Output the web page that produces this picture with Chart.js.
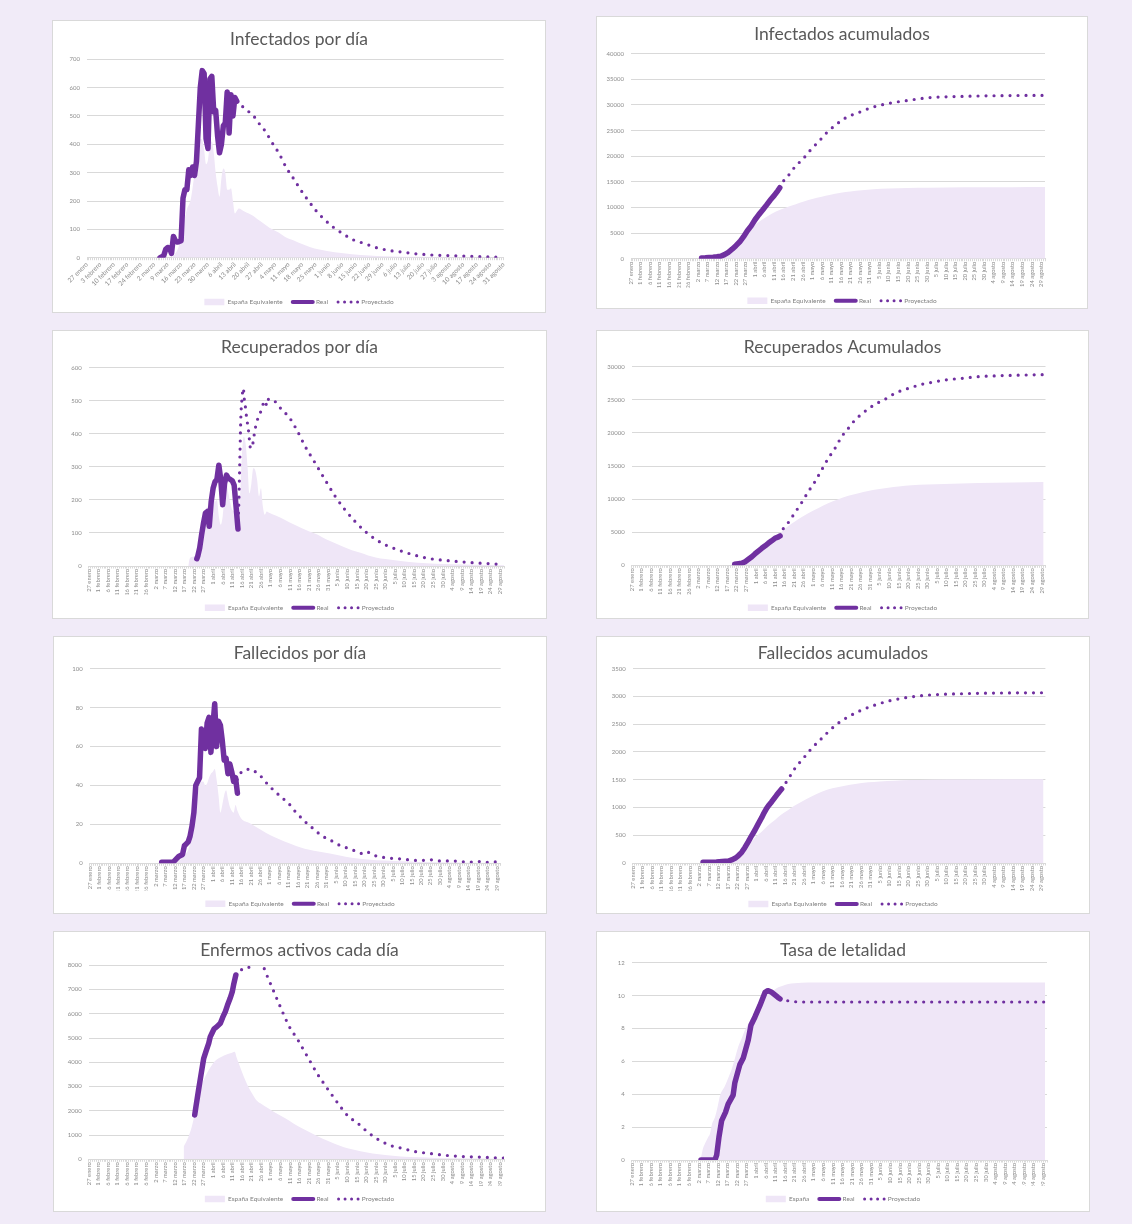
<!DOCTYPE html>
<html><head><meta charset="utf-8">
<script src="https://cdn.jsdelivr.net/npm/chart.js@4.4.1/dist/chart.umd.min.js"></script>
<style>
html,body{margin:0;padding:0;}
body{width:1132px;height:1224px;background:#f1ebf8;position:relative;overflow:hidden;font-family:Lato,sans-serif;}
.panel{position:absolute;background:#fff;border:1px solid #d9d9d9;box-sizing:border-box;}
canvas.c{position:absolute;}
</style></head><body>
<script>
// ---------- tick labels ----------
const weeklyTicks = ['27 enero','3 febrero','10 febrero','17 febrero','24 febrero','2 marzo','9 marzo','16 marzo','23 marzo','30 marzo','6 abril','13 abril','20 abril','27 abril','4 mayo','11 mayo','18 mayo','25 mayo','1 junio','8 junio','15 junio','22 junio','29 junio','6 julio','13 julio','20 julio','27 julio','3 agosto','10 agosto','17 agosto','24 agosto','31 agosto'];
const fiveDayTicks = ['27 enero','1 febrero','6 febrero','11 febrero','16 febrero','21 febrero','26 febrero','2 marzo','7 marzo','12 marzo','17 marzo','22 marzo','27 marzo','1 abril','6 abril','11 abril','16 abril','21 abril','26 abril','1 mayo','6 mayo','11 mayo','16 mayo','21 mayo','26 mayo','31 mayo','5 junio','10 junio','15 junio','20 junio','25 junio','30 junio','5 julio','10 julio','15 julio','20 julio','25 julio','30 julio','4 agosto','9 agosto','14 agosto','19 agosto','24 agosto','29 agosto'];
const seriesNames = ['España Equivalente','Real','Proyectado'];
const seriesNamesTasa = ['España','Real','Proyectado'];

// ---------- data: [day index since 27 enero, value] ----------
// Infectados por día
const infDiaEsp = [[44,0],[46,15],[48,45],[50,110],[52,170],[54,205],[56,300],[57,360],[58,400],[59,420],[60,415],[61,380],[62,330],[63,345],[64,400],[65,410],[66,370],[67,300],[68,250],[69,215],[70,280],[71,315],[72,300],[73,240],[74,240],[75,245],[76,200],[77,156],[78,165],[79,174],[82,163],[86,150],[90,130],[95,106],[100,88],[103,74],[108,60],[112,48],[116,38],[121,29],[129,19],[138,12],[147,8],[155,5],[165,3.5],[173,3],[190,2],[217,1]];
const infDiaReal = [[38,0],[39,3],[40,8],[41,30],[42,36],[43,34],[44,15],[45,75],[46,60],[47,55],[48,57],[49,60],[50,210],[51,240],[52,240],[53,310],[54,290],[55,320],[56,290],[57,340],[58,470],[59,600],[60,660],[61,650],[62,420],[63,385],[64,630],[65,640],[66,515],[67,520],[68,430],[69,370],[70,400],[71,465],[72,475],[73,585],[74,440],[75,575],[76,500],[77,565],[78,552]];
const infDiaProy = [[78,552],[79,545],[83,522],[87,498],[90,470],[93,445],[96,410],[100,368],[104,315],[107,285],[110,253],[113,222],[115,204],[119,168],[123,139],[128,109],[133,86],[138,65],[144,51],[151,35],[158,25],[165,19],[171,14],[181,9],[190,7],[199,5],[208,3],[217,1]];
// Infectados acumulados
const infAcuEsp = [[38,0],[44,100],[48,400],[50,700],[52,1300],[55,2200],[58,3500],[61,5000],[63,5900],[66,6900],[69,7700],[72,8400],[76,9200],[81,9950],[86,10600],[91,11200],[95,11650],[100,12100],[104,12450],[110,12850],[115,13100],[121,13350],[127,13550],[135,13700],[145,13800],[156,13850],[175,13920],[200,13960],[217,13980]];
const infAcuReal = [[37,130],[39,170],[41,240],[43,300],[45,380],[47,480],[49,800],[51,1240],[53,1850],[55,2550],[57,3300],[59,4300],[61,5450],[63,6400],[65,7600],[67,8600],[69,9500],[71,10450],[73,11450],[75,12300],[77,13300],[78,13850]];
const infAcuProy = [[78,13850],[79,14700],[81.6,15800],[86,17950],[90.4,19580],[94.4,21330],[98.6,22960],[102.9,24700],[107.3,26100],[111.7,27300],[116.1,28100],[120.4,28680],[124.8,29330],[129.4,29850],[133.5,30180],[137.9,30500],[142.8,30760],[148.9,31090],[155.9,31410],[173.4,31670],[190.9,31800],[217,31870]];
// Recuperados por día
const recDiaEsp = [[52,0],[53,25],[56,30],[58,60],[60,120],[62,180],[63,150],[64,200],[65,205],[66,195],[67,200],[68,150],[69,125],[70,150],[71,210],[72,250],[73,220],[74,190],[75,170],[76,165],[77,160],[78,170],[79,200],[80,330],[81,391],[82,370],[83,300],[84,220],[85,250],[86,296],[87,290],[88,260],[89,210],[90,235],[91,180],[92,155],[93,165],[94,162],[98,152],[102.6,139],[107,126],[111.4,114],[115,105],[120,94],[124,81],[128.8,69],[133,58],[137.5,48],[142,40],[146,32],[150,26],[155,21],[163,15],[172,10],[181,7],[190,5],[200,3.5],[217,2]];
const recDiaReal = [[56.5,22],[57,30],[58,55],[59,95],[60,130],[61,160],[62,165],[63,120],[64,195],[65,235],[66,255],[67,262],[68,305],[69,262],[70,185],[71,250],[72,275],[73,265],[74,262],[75,258],[76,245],[77,180],[78,112]];
const recDiaProy = [[78,112],[78.5,200],[79,330],[79.5,450],[80,500],[80.8,538],[81.3,505],[81.7,490],[82.5,450],[83.5,410],[84.6,356],[85.5,362],[86.3,391],[87.2,421],[88.6,450],[89.7,464],[90.6,482],[92.3,500],[93,485],[94,505],[95,505],[97.5,497],[101,472],[104.5,452],[108.8,411],[113.2,361],[118.4,311],[123.6,260],[128.9,210],[134.1,169],[139.3,134],[144.6,104],[149.8,81],[155,64],[162,48],[169,35],[177.6,23],[189.8,15],[200.3,10],[216,5]];
// Recuperados acumulados
const recAcuEsp = [[52,0],[55,150],[58,350],[61,700],[64.6,1300],[68,2000],[71.6,2820],[75,3900],[78.6,5085],[82,5900],[85.6,6600],[89,7250],[92.6,7850],[98,8650],[103,9360],[108,9950],[113.6,10520],[119,10900],[124,11230],[129,11500],[134.6,11730],[140,11900],[146.8,12080],[155,12200],[164,12280],[181.8,12430],[200,12520],[216,12590]];
const recAcuReal = [[54,150],[56,230],[57.7,302],[59.5,550],[61.2,906],[63,1300],[64.6,1711],[66.4,2150],[68.2,2567],[70,2950],[71.6,3322],[73.4,3700],[75.1,4078],[77,4300],[77.8,4430]];
const recAcuProy = [[77.8,4430],[78.6,5085],[82.1,6444],[85.6,7954],[89.1,9464],[92.6,11125],[96.1,12635],[99.6,14397],[103.1,16159],[106.6,17669],[110.1,19431],[113.6,20690],[117.1,21948],[120.6,22854],[124.9,23811],[129.3,24566],[133.7,25220],[138,25975],[142.4,26479],[146.8,26882],[152,27335],[157.3,27637],[164.3,27989],[173,28241],[181.8,28492],[199.2,28694],[215.8,28794]];
// Fallecidos por día
const falDiaEsp = [[44,0],[46,1],[48,2],[50,4],[52,7],[53,10],[54,14],[55,20],[56,28],[57,35],[58,40],[59,42],[60,42],[61,40],[62,41],[63,44],[64,46],[65,47],[66,48.5],[67,43],[68,35],[69,26],[70,30],[71,35],[72,37.5],[73,33],[74,29],[75,27],[76,26],[77,30],[78,27],[80,23],[84.6,20.6],[89,18],[93.4,15.4],[98,13.3],[102.2,11.5],[107,9.7],[111,8.2],[116,6.9],[120.7,6],[126.8,5],[132,4],[138.3,2.9],[147,2],[155.9,1.4],[165,1],[173.5,0.7],[190,0.4],[216,0.2]];
const falDiaReal = [[38,0.5],[40,0.5],[42,0.5],[44,0.5],[45,1.5],[46,2.5],[47,3.5],[48,4],[49,4.5],[50,9],[51,10],[52,11],[53,14],[54,19],[55,26],[56,40],[57,42],[58,44],[59,69],[60,66],[61,59],[62,72],[63,75],[64,57],[65,70],[66,82],[67,60],[68,73],[69,71],[70,63],[71,53],[72,54],[73,46],[74,51],[75,47],[76,42],[77,44],[78,36]];
const falDiaProy = [[77.9,43],[79,45.5],[81,47.5],[83,48.3],[85.5,48.3],[87.5,47],[90.1,45],[94.5,40],[98,36.8],[101.5,33.7],[105,30.8],[108.6,26.5],[112.1,23],[115.6,19.7],[119.1,17],[122.6,14],[126.2,12.5],[129.7,10.3],[135,8.2],[140.3,6.3],[145.5,4.6],[147.3,5.6],[150.8,3.9],[156.1,2.9],[164.9,2.2],[173.7,1.4],[180,1.8],[185,1.2],[191.3,1.2],[200,0.6],[205,0.9],[210,0.5],[214.2,0.7],[217,0.5]];
// Fallecidos acumulados
const falAcuEsp = [[40,0],[48,20],[52,50],[55,110],[57.3,174],[60,290],[62.5,384],[65,480],[67.8,564],[71,670],[74.8,774],[78,870],[81.8,954],[85,1030],[88.8,1104],[94,1200],[99.4,1285],[105,1345],[111.6,1393],[117,1425],[123.9,1453],[130,1470],[137.9,1483],[146,1493],[155.4,1501],[175,1505],[216,1507]];
const falAcuReal = [[37,12],[40,15],[44,20],[47,28],[50.3,36],[52,55],[53.8,84],[55.5,130],[57.3,192],[59,280],[60.8,384],[62.5,490],[64.3,594],[66,705],[67.8,816],[69,900],[70.4,984],[71.7,1045],[73.1,1104],[74.4,1165],[75.7,1224],[77,1280],[78.3,1333]];
const falAcuProy = [[78.3,1333],[81.8,1513],[85.3,1705],[89.7,1885],[94.1,2065],[98.5,2215],[102.9,2365],[107.2,2497],[113.4,2635],[120.4,2755],[127.4,2845],[134.4,2917],[141.4,2965],[148.4,3001],[155.4,3025],[172.9,3049],[190.4,3061],[215.9,3067]];
// Enfermos activos cada día
const actEsp = [[49.6,520],[52,900],[53.9,1350],[56,2100],[57.4,2580],[59,3050],[60.9,3410],[62.5,3650],[64.4,3890],[66,4050],[67.9,4165],[70,4250],[71.4,4300],[74,4370],[76.3,4440],[77.3,4200],[78.4,3960],[81,3410],[83,3050],[85.3,2720],[87.5,2450],[89.7,2310],[94,2100],[98,1900],[102.7,1690],[107,1480],[111.4,1280],[116,1100],[120.1,935],[124.5,780],[128.8,632],[133,510],[137.5,412],[142,335],[146.2,275],[150.5,220],[154.9,179],[163,120],[172.3,82],[181,58],[189.7,41],[200,33],[215,27]];
const actReal = [[55.4,1828],[56,2150],[57.4,2859],[58.5,3400],[60.1,4165],[61.5,4500],[62.7,4784],[63.5,5050],[64.4,5196],[65.5,5380],[67,5471],[68.8,5608],[70,5850],[71.4,6089],[72.5,6350],[73.9,6639],[75,6900],[75.7,7189],[76.9,7602]];
const actProy = [[76.9,7602],[79.2,7808],[82.3,7835],[84.7,8000],[87.5,8250],[89.5,8150],[91.1,7973],[93.4,7533],[96,7052],[98.6,6571],[101.2,6090],[105.3,5402],[108.8,4990],[112.3,4509],[115.8,4028],[119.3,3546],[122.8,3134],[127.1,2653],[131.5,2172],[135.8,1760],[140.2,1512],[144.5,1210],[148.9,935],[153.2,729],[158.5,550],[163.7,454],[170.7,316],[177.6,247],[186.3,165],[196.8,110],[207.3,82],[214.2,55],[217,50]];
// Tasa de letalidad
const tasaEsp = [[36,0],[37,0.6],[38.3,1.0],[40,1.4],[40.9,1.6],[42,2.2],[43.5,2.6],[45,3.3],[46.1,3.9],[48.7,4.5],[50.5,5.0],[52.2,5.5],[54,6.2],[55.7,6.9],[57.5,7.4],[59.2,7.9],[61.5,8.4],[63.6,8.9],[65.8,9.3],[67.9,9.7],[69.6,9.9],[71.4,10.1],[74,10.3],[76.6,10.5],[79,10.6],[81.8,10.7],[85,10.75],[88.8,10.78],[95,10.8],[102.7,10.8],[216,10.8]];
const tasaReal = [[36.2,0],[43.5,0],[44.4,0.3],[45.6,1.4],[47,2.4],[49,2.9],[50.4,3.4],[53,3.95],[53.9,4.7],[56.5,5.8],[58.3,6.2],[60.9,7.3],[62.3,8.2],[64.4,8.7],[67,9.4],[69.7,10.2],[71.1,10.3],[73.2,10.2],[76.3,9.9],[77.5,9.8]];
const tasaProy = [[77.5,9.8],[78.4,9.8],[81,9.7],[85.3,9.63],[90,9.61],[217,9.61]];

// ---------- styling ----------
const PURPLE = '#7030a0';
const AREA = '#efe6f7';
const GRID = '#d9d9d9';
const TICK = '#8c8c8c';
Chart.defaults.font.family = 'Lato, sans-serif';

const toXY = a => a.map(p => ({x: p[0], y: p[1]}));

function makeChart(c) {
  const [bx, by, bw, bh] = c.box;
  const panel = document.createElement('div');
  panel.className = 'panel';
  panel.style.cssText = `left:${bx}px;top:${by}px;width:${bw}px;height:${bh}px;`;
  document.body.appendChild(panel);
  const cv = document.createElement('canvas');
  cv.className = 'c';
  cv.width = bw; cv.height = c.ch;
  cv.style.cssText = `left:${bx}px;top:${by}px;width:${bw}px;height:${c.ch}px;`;
  document.body.appendChild(cv);
  const names = c.names || seriesNames;
  new Chart(cv.getContext('2d'), {
    type: 'line',
    data: {datasets: [
      {label: names[0], data: toXY(c.esp), fill: 'origin', backgroundColor: AREA, borderColor: AREA, borderWidth: 0, pointRadius: 0, cubicInterpolationMode: 'monotone'},
      {label: names[1], data: toXY(c.real), fill: false, borderColor: PURPLE, backgroundColor: PURPLE, borderWidth: 5.5, pointRadius: 0, tension: 0, borderJoinStyle: 'round', borderCapStyle: 'round'},
      {label: names[2], data: toXY(c.proy), fill: false, borderColor: PURPLE, backgroundColor: 'transparent', borderWidth: 3.2, borderDash: [0, 8], borderCapStyle: 'round', pointRadius: 0, cubicInterpolationMode: 'monotone'}
    ]},
    options: {
      responsive: false, animation: false, devicePixelRatio: 1, events: [],
      layout: {padding: {left: 0, top: 0, right: 0, bottom: c.padB}},
      plugins: {
        filler: {drawTime: 'beforeDatasetsDraw'},
        tooltip: {enabled: false},
        title: {display: true, text: c.title, color: '#595959', font: {size: 17.5, weight: 'normal'}, padding: {top: c.tT, bottom: c.tB}},
        legend: {position: 'bottom', labels: {
          usePointStyle: true, pointStyleWidth: 20, padding: 10, color: '#7f7f7f', font: {size: 6.5},
          generateLabels(chart) {
            const items = Chart.defaults.plugins.legend.labels.generateLabels(chart);
            Object.assign(items[0], {pointStyle: 'rect', fillStyle: AREA, strokeStyle: AREA, lineWidth: 0, lineDash: []});
            Object.assign(items[1], {pointStyle: 'line', fillStyle: PURPLE, strokeStyle: PURPLE, lineWidth: 4, lineCap: 'round', lineDash: []});
            Object.assign(items[2], {pointStyle: 'line', fillStyle: PURPLE, strokeStyle: PURPLE, lineWidth: 3, lineCap: 'round', lineDash: [0, 6.5]});
            return items;
          }
        }}
      },
      scales: {
        x: {type: 'linear', min: 0, max: 217,
          afterFit(s) { s.height = c.xH; },
          ticks: {stepSize: 1, autoSkip: false, minRotation: c.rot, maxRotation: c.rot, padding: 0.5, color: TICK, font: {size: c.xfs},
            callback(v) { const i = Math.round(v); if (i % c.step !== 0) return ''; return c.xt[i / c.step] || ''; }},
          grid: {drawOnChartArea: false, drawTicks: true, tickLength: 2.5, color: GRID},
          border: {display: true, color: GRID}
        },
        y: {min: 0, max: c.ymax,
          afterFit(s) { s.width = c.yW; },
          ticks: {stepSize: c.ystep, padding: 7, color: TICK, font: {size: 6}, callback: v => String(v)},
          grid: {color: GRID, drawTicks: false},
          border: {display: false}
        },
        yRight: {type: 'linear', position: 'right', display: true,
          afterFit(s) { s.width = c.padR; },
          ticks: {display: false}, grid: {display: false, drawTicks: false}, border: {display: false}
        }
      }
    }
  });
}

const charts = [
  {title: 'Infectados por día', box: [52,20,494,293], ch: 296, padR: 42.3, padB: 0.75, tT: 8.5, tB: 9.8, xH: 31.05, yW: 35, ymax: 700, ystep: 100, rot: 45, step: 7, xt: weeklyTicks, xfs: 6.5, esp: infDiaEsp, real: infDiaReal, proy: infDiaProy},
  {title: 'Infectados acumulados', box: [596,16,492,293], ch: 298, padR: 43, padB: 0.05, tT: 7.5, tB: 9.2, xH: 28.75, yW: 35, ymax: 40000, ystep: 5000, rot: 90, step: 5, xt: fiveDayTicks, xfs: 5.8, esp: infAcuEsp, real: infAcuReal, proy: infAcuProy},
  {title: 'Recuperados por día', box: [52,330,495,289], ch: 291, padR: 43, padB: 0.05, tT: 6.5, tB: 10.2, xH: 28.45, yW: 36.7, ymax: 600, ystep: 100, rot: 90, step: 5, xt: fiveDayTicks, xfs: 5.8, esp: recDiaEsp, real: recDiaReal, proy: recDiaProy},
  {title: 'Recuperados Acumulados', box: [596,330,493,289], ch: 291, padR: 43.5, padB: 0.05, tT: 6.5, tB: 9.2, xH: 29.15, yW: 35.7, ymax: 30000, ystep: 5000, rot: 90, step: 5, xt: fiveDayTicks, xfs: 5.8, esp: recAcuEsp, real: recAcuReal, proy: recAcuProy},
  {title: 'Fallecidos por día', box: [53,636,494,278], ch: 281, padR: 46.3, padB: 0.05, tT: 6.5, tB: 5.2, xH: 27.15, yW: 36.7, ymax: 100, ystep: 20, rot: 90, step: 5, xt: fiveDayTicks, xfs: 5.8, esp: falDiaEsp, real: falDiaReal, proy: falDiaProy},
  {title: 'Fallecidos acumulados', box: [596,636,494,278], ch: 282, padR: 44.6, padB: 0.75, tT: 6.5, tB: 5.2, xH: 27.75, yW: 36.7, ymax: 3500, ystep: 500, rot: 90, step: 5, xt: fiveDayTicks, xfs: 5.8, esp: falAcuEsp, real: falAcuReal, proy: falAcuProy},
  {title: 'Enfermos activos cada día', box: [53,931,493,281], ch: 282, padR: 42, padB: 0.75, tT: 8.5, tB: 4.8, xH: 26.45, yW: 35.7, ymax: 8000, ystep: 1000, rot: 90, step: 5, xt: fiveDayTicks, xfs: 5.8, esp: actEsp, real: actReal, proy: actProy},
  {title: 'Tasa de letalidad', box: [596,931,494,281], ch: 282, padR: 43, padB: 0.75, tT: 8.5, tB: 2.2, xH: 25.75, yW: 35.7, ymax: 12, ystep: 2, rot: 90, step: 5, xt: fiveDayTicks, xfs: 5.8, names: seriesNamesTasa, esp: tasaEsp, real: tasaReal, proy: tasaProy}
];
charts.forEach(makeChart);
</script>
</body></html>
